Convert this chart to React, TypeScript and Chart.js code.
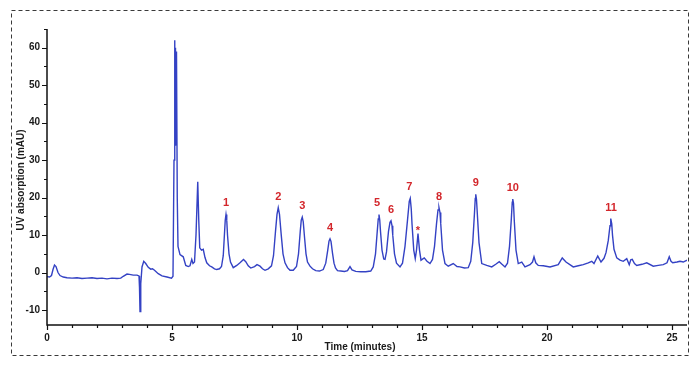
import { useEffect, useRef } from "react";
import { Chart, registerables } from "chart.js";

Chart.register(...registerables);

// Retention time (minutes) and UV signal (mAU)
const timeMin: number[] = [
  0.0, 0.1, 0.18, 0.24, 0.3, 0.36, 0.44, 0.52, 0.65, 0.8, 1.0, 1.2, 1.4, 1.6, 1.8, 2.0, 2.2, 2.4, 2.6, 2.8,
  2.95, 3.05, 3.2, 3.3, 3.45, 3.6, 3.68, 3.7, 3.72, 3.75, 3.8, 3.87, 3.95, 4.05, 4.15, 4.22, 4.3, 4.45, 4.6, 4.8,
  4.98, 5.04, 5.08, 5.11, 5.12, 5.13, 5.14, 5.15, 5.16, 5.17, 5.18, 5.19, 5.21, 5.24, 5.32, 5.45, 5.55, 5.65, 5.72, 5.79,
  5.84, 5.9, 5.96, 6.03, 6.07, 6.11, 6.18, 6.25, 6.32, 6.39, 6.5, 6.59, 6.7, 6.79, 6.9, 6.98, 7.05, 7.1, 7.13, 7.16,
  7.19, 7.22, 7.28, 7.34, 7.45, 7.59, 7.72, 7.86, 7.95, 8.05, 8.15, 8.3, 8.4, 8.52, 8.62, 8.72, 8.85, 8.98, 9.06, 9.14,
  9.2, 9.25, 9.3, 9.37, 9.44, 9.52, 9.62, 9.72, 9.85, 9.98, 10.06, 10.13, 10.17, 10.21, 10.25, 10.3, 10.36, 10.42, 10.52, 10.62,
  10.75, 10.9, 11.05, 11.15, 11.23, 11.28, 11.32, 11.36, 11.42, 11.48, 11.54, 11.62, 11.75, 11.9, 12.02, 12.12, 12.2, 12.35, 12.55, 12.75,
  12.95, 13.05, 13.14, 13.21, 13.25, 13.28, 13.31, 13.34, 13.4, 13.47, 13.52, 13.58, 13.66, 13.72, 13.76, 13.8, 13.83, 13.9, 13.98, 14.12,
  14.22, 14.32, 14.42, 14.49, 14.53, 14.57, 14.6, 14.67, 14.73, 14.78, 14.84, 14.9, 14.96, 15.09, 15.2, 15.32, 15.42, 15.5, 15.58, 15.64,
  15.68, 15.72, 15.75, 15.82, 15.92, 16.05, 16.25, 16.4, 16.52, 16.7, 16.85, 16.95, 17.03, 17.1, 17.13, 17.15, 17.18, 17.21, 17.28, 17.39,
  17.59, 17.79, 17.95, 18.09, 18.2, 18.32, 18.42, 18.5, 18.57, 18.61, 18.63, 18.66, 18.69, 18.76, 18.85, 18.99, 19.12, 19.32, 19.42, 19.48,
  19.55, 19.65, 19.85, 20.12, 20.45, 20.61, 20.76, 21.05, 21.25, 21.45, 21.65, 21.79, 21.88, 22.03, 22.16, 22.28, 22.36, 22.45, 22.52, 22.54,
  22.56, 22.59, 22.62, 22.68, 22.79, 22.92, 23.05, 23.19, 23.29, 23.35, 23.41, 23.5, 23.59, 23.8, 23.99, 24.25, 24.45, 24.65, 24.8, 24.89,
  24.96, 25.03, 25.2, 25.32, 25.45, 25.6,
];

const signal: number[] = [
  -1.1, -1.2, -0.8, 0.8, 2.0, 1.6, 0.0, -0.8, -1.2, -1.4, -1.5, -1.4, -1.6, -1.5, -1.4, -1.6, -1.5, -1.7, -1.5, -1.6,
  -1.5, -1.0, -0.4, -0.5, -0.7, -0.7, -0.9, -4.0, -10.4, -3.0, 1.5, 3.0, 2.4, 1.4, 0.9, 1.0, 0.6, -0.3, -0.9, -1.2,
  -1.5, -1.0, 30, 62.0, 34, 60, 34, 59.5, 35, 59, 34, 58.9, 20, 7.0, 4.8, 4.2, 1.9, 1.6, 1.8, 3.5,
  2.4, 2.8, 10, 24.2, 14, 6.6, 6.0, 6.2, 4.0, 2.6, 1.8, 1.5, 1.0, 0.8, 1.0, 1.6, 4.5, 10.5, 14.0, 15.5,
  14.0, 10.0, 5.0, 2.8, 1.3, 1.9, 2.6, 3.5, 2.9, 1.8, 1.2, 1.6, 2.1, 1.7, 1.0, 0.6, 1.0, 1.8, 4.5, 11,
  15.5, 17.3, 15.5, 10, 5, 2.6, 1.3, 0.6, 0.6, 1.6, 5, 11, 14.0, 14.8, 13.5, 9.5, 5.0, 2.8, 1.7, 1.0,
  0.5, 0.4, 0.8, 2.5, 6.0, 8.4, 9.0, 8.3, 5.2, 2.5, 1.2, 0.5, 0.4, 0.3, 0.5, 1.6, 0.7, 0.3, 0.2, 0.2,
  0.4, 1.5, 5, 11, 14.3, 15.5, 14.0, 11, 6, 3.6, 3.5, 5.5, 11, 13.4, 13.8, 12.5, 10, 5, 2.5, 1.5,
  2.5, 7, 14, 19.0, 19.8, 17.0, 13, 6, 3.7, 6, 10.4, 6, 3.3, 3.9, 3.0, 2.4, 3.5, 7, 13, 16.7,
  17.3, 16.0, 13, 6, 2.4, 1.7, 2.4, 1.6, 1.5, 1.2, 1.3, 3, 8, 16, 19.8, 20.9, 19.5, 16, 8, 2.4,
  1.9, 1.5, 2.2, 2.9, 2.2, 1.5, 2.5, 7, 14, 18.8, 19.6, 18.5, 14, 6, 2.4, 2.8, 1.5, 2.1, 2.8, 4.2,
  2.6, 1.9, 1.8, 1.5, 2.1, 3.9, 2.8, 1.5, 1.8, 2.1, 2.6, 3.0, 2.4, 4.4, 2.8, 3.8, 5.3, 8.5, 12.5, 14.0,
  14.4, 13.0, 10.0, 6.2, 3.9, 3.3, 3.0, 3.7, 2.1, 3.4, 3.5, 2.4, 1.9, 2.2, 2.6, 1.7, 1.9, 2.1, 2.6, 4.2,
  3.0, 2.6, 2.8, 3.0, 2.8, 3.3,
];

const xTickValues: number[] = [0, 5, 10, 15, 20, 25];
const yTickValues: number[] = [-10, 0, 10, 20, 30, 40, 50, 60];

const peakNames: string[] = ["1", "2", "3", "4", "5", "6", "7", "*", "8", "9", "10", "11"];
const peakTimes: number[] = [7.16, 9.25, 10.21, 11.32, 13.2, 13.76, 14.49, 14.84, 15.68, 17.15, 18.63, 22.56];
const peakHeights: number[] = [15.5, 17.3, 14.8, 9.0, 15.5, 13.8, 19.8, 10.4, 17.3, 20.9, 19.6, 14.4];

const X_MIN = 0;
const X_MAX = 25.6;
const Y_MIN = -14;
const Y_MAX = 65;

const FONT = '"Liberation Sans", Arial, Helvetica, sans-serif';

const decorPlugin = {
  id: "chromDecor",
  afterDraw(chart: any) {
    const ctx: CanvasRenderingContext2D = chart.ctx;
    const xs = chart.scales.x;
    const ys = chart.scales.y;
    const area = chart.chartArea;
    ctx.save();

    // dashed frame
    ctx.strokeStyle = "#3a3a3a";
    ctx.lineWidth = 1;
    ctx.setLineDash([4, 3]);
    ctx.strokeRect(11.5, 10.5, 677, 345);
    ctx.setLineDash([]);

    // axes lines
    ctx.strokeStyle = "#111";
    ctx.lineWidth = 1.5;
    ctx.beginPath();
    ctx.moveTo(area.left, area.top);
    ctx.lineTo(area.left, area.bottom);
    ctx.lineTo(area.right, area.bottom);
    ctx.stroke();

    // x ticks: major every 5, minor every 1
    ctx.lineWidth = 1.2;
    ctx.beginPath();
    for (let t = Math.ceil(X_MIN); t <= X_MAX; t += 1) {
      const px = Math.round(xs.getPixelForValue(t)) + 0.5;
      const len = t % 5 === 0 ? 5 : 3;
      ctx.moveTo(px, area.bottom);
      ctx.lineTo(px, area.bottom + len);
    }
    // y ticks: major every 10, minor every 5
    for (let v = -10; v <= Y_MAX; v += 5) {
      const py = Math.round(ys.getPixelForValue(v)) + 0.5;
      const len = v % 10 === 0 ? 5 : 3;
      ctx.moveTo(area.left, py);
      ctx.lineTo(area.left - len, py);
    }
    ctx.stroke();

    // tick labels
    ctx.fillStyle = "#1a1a1a";
    ctx.font = `bold 10px ${FONT}`;
    ctx.textAlign = "center";
    ctx.textBaseline = "middle";
    xTickValues.forEach((t) => {
      ctx.fillText(String(t), xs.getPixelForValue(t), area.bottom + 13);
    });
    ctx.textAlign = "right";
    yTickValues.forEach((v) => {
      ctx.fillText(String(v), area.left - 7, ys.getPixelForValue(v));
    });

    // axis titles
    ctx.textAlign = "center";
    ctx.fillText("Time (minutes)", (area.left + area.right) / 2 - 7, area.bottom + 22);
    ctx.save();
    ctx.translate(21, (area.top + area.bottom) / 2 + 3);
    ctx.rotate(-Math.PI / 2);
    ctx.fillText("UV absorption (mAU)", 0, 0);
    ctx.restore();

    // peak labels
    ctx.fillStyle = "#d3262b";
    ctx.font = `bold 11px ${FONT}`;
    ctx.textAlign = "center";
    ctx.textBaseline = "middle";
    peakNames.forEach((name, i) => {
      const px = xs.getPixelForValue(peakTimes[i]);
      const py = ys.getPixelForValue(peakHeights[i]);
      const gap = name === "*" ? 3 : 11;
      ctx.fillText(name, px, py - gap);
    });

    ctx.restore();
  },
};

export default function App() {
  const canvasRef = useRef<HTMLCanvasElement | null>(null);

  useEffect(() => {
    if (!canvasRef.current) return;
    const points = timeMin.map((t, i) => ({ x: t, y: signal[i] }));
    const chart = new Chart(canvasRef.current, {
      type: "line",
      data: {
        datasets: [
          {
            data: points,
            borderColor: "#3442c4",
            borderWidth: 1.4,
            pointRadius: 0,
            tension: 0,
            fill: false,
          },
        ],
      },
      options: {
        animation: false,
        responsive: false,
        devicePixelRatio: 1,
        events: [],
        layout: { padding: { left: 47, right: 13, top: 29, bottom: 40 } },
        scales: {
          x: { type: "linear", min: X_MIN, max: X_MAX, display: false },
          y: { type: "linear", min: Y_MIN, max: Y_MAX, display: false },
        },
        plugins: {
          legend: { display: false },
          tooltip: { enabled: false },
        },
      },
      plugins: [decorPlugin],
    });
    return () => chart.destroy();
  }, []);

  return (
    <div style={{ position: "absolute", left: 0, top: 0, width: 700, height: 365, background: "#fff" }}>
      <canvas ref={canvasRef} width={700} height={365} style={{ display: "block" }} />
    </div>
  );
}
